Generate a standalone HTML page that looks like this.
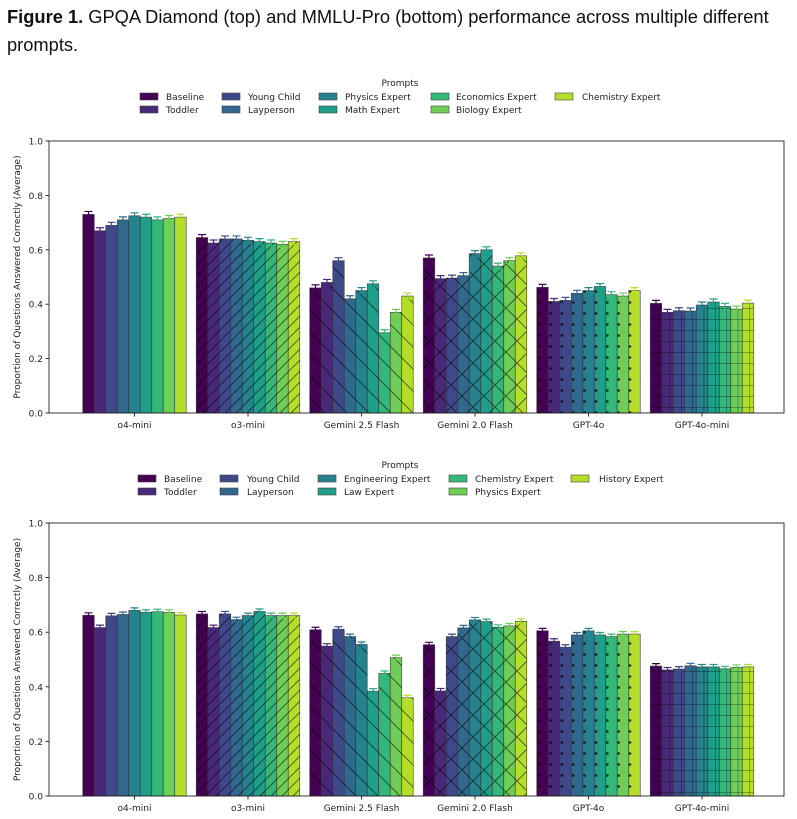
<!DOCTYPE html>
<html><head><meta charset="utf-8"><style>
body{margin:0;background:#fff;width:797px;height:819px;overflow:hidden;font-family:"DejaVu Sans","Liberation Sans",sans-serif}
.cap{position:absolute;left:7px;top:3px;width:790px;font-family:"Liberation Sans",sans-serif;font-size:18.3px;line-height:28px;color:#111}
svg text{font-family:"DejaVu Sans","Liberation Sans",sans-serif;font-size:9px;fill:#222}
</style></head><body>
<div class="cap"><b>Figure 1.</b> GPQA Diamond (top) and MMLU-Pro (bottom) performance across multiple different prompts.</div>
<svg id="fig" width="797" height="819" style="position:absolute;left:0;top:0">
<defs>
<pattern id="h-none" patternUnits="userSpaceOnUse" width="11" height="11"></pattern>
<pattern id="h-slash" patternUnits="userSpaceOnUse" width="11" height="11"><path d="M0,11L11,0M-2,2L2,-2M9,13L13,9" stroke="#000" stroke-opacity="0.6" stroke-width="0.9"/></pattern>
<pattern id="h-back" patternUnits="userSpaceOnUse" width="22" height="22"><path d="M0,0L22,22M-2,20L2,24M20,-2L24,2" stroke="#000" stroke-opacity="0.6" stroke-width="0.9"/></pattern>
<pattern id="h-x" patternUnits="userSpaceOnUse" width="22" height="22"><path d="M0,0L22,22M0,22L22,0" stroke="#000" stroke-opacity="0.6" stroke-width="0.9"/></pattern>
<pattern id="h-dot" patternUnits="userSpaceOnUse" width="11.35" height="11"><circle cx="5.7" cy="5.5" r="1.4" fill="#000" fill-opacity="0.7"/></pattern>
<pattern id="h-plus" patternUnits="userSpaceOnUse" width="11.35" height="11"><path d="M0,0V11M0,0H11.35" stroke="#000" stroke-opacity="0.6" stroke-width="1"/></pattern>
</defs>
</svg>
<script>
const models = ["o4-mini","o3-mini","Gemini 2.5 Flash","Gemini 2.0 Flash","GPT-4o","GPT-4o-mini"];
const promptsTop = ["Baseline","Toddler","Young Child","Layperson","Physics Expert","Math Expert","Economics Expert","Biology Expert","Chemistry Expert"];
const promptsBottom = ["Baseline","Toddler","Young Child","Layperson","Engineering Expert","Law Expert","Chemistry Expert","Physics Expert","History Expert"];
const topO4mini = [0.73,0.67,0.69,0.71,0.725,0.72,0.71,0.715,0.72];
const topO3mini = [0.645,0.625,0.64,0.64,0.635,0.63,0.625,0.62,0.63];
const topGem25 = [0.46,0.48,0.56,0.42,0.45,0.475,0.295,0.37,0.43];
const topGem20 = [0.57,0.494,0.496,0.505,0.586,0.6,0.54,0.56,0.578];
const topGpt4o = [0.462,0.41,0.414,0.44,0.45,0.465,0.435,0.43,0.45];
const topGpt4omini = [0.403,0.37,0.376,0.375,0.397,0.408,0.392,0.382,0.404];
const botO4mini = [0.662,0.617,0.66,0.665,0.68,0.673,0.675,0.673,0.663];
const botO3mini = [0.667,0.617,0.667,0.646,0.661,0.676,0.661,0.661,0.661];
const botGem25 = [0.609,0.549,0.611,0.584,0.555,0.384,0.449,0.507,0.36];
const botGem20 = [0.554,0.385,0.584,0.616,0.645,0.639,0.618,0.623,0.64];
const botGpt4o = [0.605,0.567,0.545,0.59,0.605,0.59,0.584,0.593,0.593];
const botGpt4omini = [0.476,0.462,0.465,0.477,0.473,0.473,0.466,0.471,0.473];
const errTop = 0.011;
const errBot = 0.009;
const yTicks = [0,0.2,0.4,0.6,0.8,1.0];

const colors=["#440154","#482878","#3e4989","#31688e","#26828e","#1f9e89","#35b779","#6ece58","#b5de2b"];
const hatches=["h-none","h-slash","h-back","h-x","h-dot","h-plus"];
const NS="http://www.w3.org/2000/svg";
const svg=document.getElementById('fig');
function el(tag,attrs,parent,text){const e=document.createElementNS(NS,tag);for(const k in attrs)e.setAttribute(k,attrs[k]);if(text!==undefined)e.textContent=text;(parent||svg).appendChild(e);return e;}

function drawChart(id,y0,y1,series,prompts,err,legY,legPatchX,legTextX){
  const g=el('g',{});
  
  
  const xl=49,xr=784;
  const ys=v=>y0+(y1-y0)*v;
  const groupC=i=>134.5+113.5*i;
  const bw=11.5;
  const lg=el('g',{},g);
  
  
  el('text',{x:400,y:legY,'text-anchor':'middle'},lg,'Prompts');
  prompts.forEach((p,j)=>{
    const col=Math.floor(j/2),row=j%2;
    const it=el('g',{},lg);
    
    
    const yy=legY+14+row*13;
    el('rect',{x:legPatchX[col],y:yy-7,width:18,height:7,fill:colors[j],stroke:'#444','stroke-width':0.6},it);
    el('text',{x:legTextX[col],y:yy,textLength:undefined},it,p);
  });
  yTicks.forEach(t=>{
    const y=ys(t);
    el('line',{x1:xl-3.5,x2:xl,y1:y,y2:y,stroke:'#000','stroke-width':0.8},g);
    const tl=el('text',{x:xl-6,y:y+3.5,'text-anchor':'end'},g,t.toFixed(1));
    
    
  });
  const yt=el('text',{transform:`translate(20,${(y0+y1)/2}) rotate(-90)`,'text-anchor':'middle','font-size':'8.8'},g,'Proportion of Questions Answered Correctly (Average)');
  
  
  series.forEach((vals,i)=>{
    const c=groupC(i);
    vals.forEach((v,j)=>{
      const x=c-4.5*bw+j*bw;
      const top=ys(v),h=y0-top;
      const b=el('rect',{x:x,y:top,width:bw,height:h,fill:colors[j],stroke:'#333','stroke-width':0.7,'stroke-opacity':0.8},g);
      
      
      if(i>0){el('rect',{x:x,y:top,width:bw,height:h,fill:`url(#${hatches[i]})`},g);}
      const eb=el('path',{d:`M${x+bw/2-4},${ys(v+err)}H${x+bw/2+4}M${x+bw/2-4},${ys(v-err)}H${x+bw/2+4}M${x+bw/2},${ys(v+err)}V${ys(v-err)}`,stroke:colors[j],'stroke-width':1.2,fill:'none'},g);
      
      
    });
    el('line',{x1:c,x2:c,y1:y0,y2:y0+3.5,stroke:'#000','stroke-width':0.8},g);
    const xlab=el('text',{x:c,y:y0+15,'text-anchor':'middle'},g,models[i]);
    
    
  });
  const fr=el('rect',{x:xl,y:y1,width:xr-xl,height:y0-y1,fill:'none',stroke:'#222','stroke-width':0.9},g);
  
  
}
drawChart('gpqa',413,141,[topO4mini,topO3mini,topGem25,topGem20,topGpt4o,topGpt4omini],promptsTop,errTop,86,[140,222,319,431,555],[166,248,345,456,582]);
drawChart('mmlu-pro',796,523,[botO4mini,botO3mini,botGem25,botGem20,botGpt4o,botGpt4omini],promptsBottom,errBot,468,[138,220,318,449,571],[164,247,344,475,599]);
</script>
</body></html>
